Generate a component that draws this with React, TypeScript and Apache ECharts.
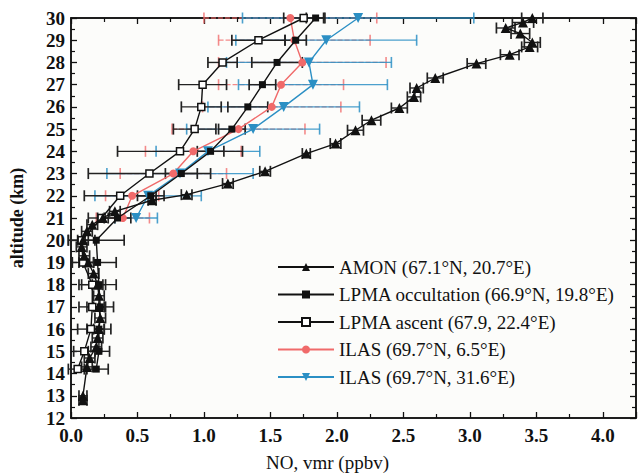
import React, { useEffect, useRef } from "react";
import * as echarts from "echarts";

// ---------- data ----------
const seriesNames = [
  "AMON (67.1°N, 20.7°E)",
  "LPMA occultation (66.9°N, 19.8°E)",
  "LPMA ascent (67.9, 22.4°E)",
  "ILAS (69.7°N, 6.5°E)",
  "ILAS (69.7°N, 31.6°E)",
];

const amonAlt = [30.0, 29.8, 29.55, 29.3, 28.9, 28.7, 28.35, 27.95, 27.3, 26.85, 26.45, 25.95, 25.4, 24.95, 24.35, 23.9, 23.1, 22.55, 22.05, 21.8, 21.3, 21.0, 20.7, 20.4, 20.0, 19.7, 19.3, 19.0, 18.5, 18.0, 17.5, 17.0, 16.5, 16.0, 15.6, 15.2, 14.7, 14.3, 13.0, 12.8];
const amonX = [3.47, 3.40, 3.27, 3.38, 3.47, 3.45, 3.30, 3.05, 2.74, 2.60, 2.58, 2.47, 2.26, 2.14, 1.99, 1.77, 1.46, 1.18, 0.87, 0.61, 0.33, 0.24, 0.16, 0.12, 0.09, 0.08, 0.10, 0.13, 0.17, 0.20, 0.21, 0.21, 0.22, 0.21, 0.20, 0.19, 0.14, 0.12, 0.09, 0.09];
const amonErr = [0.08, 0.08, 0.07, 0.07, 0.06, 0.06, 0.07, 0.07, 0.06, 0.05, 0.05, 0.06, 0.07, 0.06, 0.04, 0.03, 0.04, 0.04, 0.04, 0.03, 0.04, 0.04, 0.04, 0.04, 0.04, 0.04, 0.04, 0.04, 0.04, 0.04, 0.04, 0.04, 0.04, 0.04, 0.04, 0.04, 0.04, 0.04, 0.03, 0.03];

const lpmaAlt = [30, 29, 28, 27, 26, 25, 24, 23, 22, 21, 20, 19, 18, 17, 16, 15, 14.2];
const lpmaOccX = [1.84, 1.69, 1.55, 1.44, 1.33, 1.21, 1.05, 0.83, 0.60, 0.35, 0.19, 0.20, 0.21, 0.22, 0.21, 0.21, 0.19];
const lpmaOccErr = [0.07, 0.08, 0.19, 0.1, 0.15, 0.1, 0.1, 0.12, 0.1, 0.1, 0.21, 0.14, 0.13, 0.1, 0.09, 0.08, 0.09];
const lpmaAscX = [1.75, 1.41, 1.14, 0.99, 0.98, 0.93, 0.82, 0.59, 0.37, 0.23, 0.08, 0.09, 0.16, 0.16, 0.15, 0.10, 0.05];
const lpmaAscErr = [0.15, 0.2, 0.11, 0.18, 0.15, 0.16, 0.47, 0.46, 0.27, 0.1, 0.1, 0.08, 0.1, 0.1, 0.1, 0.08, 0.07];

const ilasAlt = [30, 29, 28, 27, 26, 25, 24, 23, 22, 21];
const ilasRedX = [1.65, 1.68, 1.74, 1.58, 1.51, 1.26, 0.92, 0.77, 0.46, 0.39];
const ilasRedErr = [0.65, 0.57, 0.63, 0.47, 0.52, 0.5, 0.36, 0.4, 0.2, 0.2];
const ilasBlueX = [2.16, 1.92, 1.79, 1.82, 1.60, 1.37, 1.03, 0.82, 0.58, 0.49];
const ilasBlueErr = [0.87, 0.68, 0.62, 0.56, 0.57, 0.5, 0.39, 0.55, 0.4, 0.16];

const xTickMin = 0;
const xTickMax = 4.25;
const yTickMin = 12;
const yTickMax = 30;

const RED = "#f06a6a";
const BLUE = "#2b8fc4";
const SERIF = "'Liberation Serif', 'Times New Roman', serif";

function makeErr(name: string, xs: number[], ys: number[], es: number[], color: string, width: number, dash: number[] | null, z: number) {
  return {
    type: "custom",
    name,
    xAxisIndex: 0,
    yAxisIndex: 0,
    z,
    silent: true,
    clip: false,
    data: xs.map((x, i) => [x, ys[i], es[i]]),
    encode: { x: 0, y: 1 },
    renderItem: (_params: any, api: any) => {
      const x = api.value(0);
      const y = api.value(1);
      const e = api.value(2);
      const l = api.coord([x - e, y]);
      const r = api.coord([x + e, y]);
      const h = 5.5;
      const capStyle = { stroke: color, lineWidth: width + 0.3, fill: null };
      return {
        type: "group",
        children: [
          { type: "line", shape: { x1: l[0], y1: l[1], x2: r[0], y2: r[1] }, style: { stroke: color, lineWidth: width, lineDash: dash || undefined, fill: null } },
          { type: "line", shape: { x1: l[0], y1: l[1] - h, x2: l[0], y2: l[1] + h }, style: capStyle },
          { type: "line", shape: { x1: r[0], y1: r[1] - h, x2: r[0], y2: r[1] + h }, style: capStyle },
        ],
      };
    },
  };
}

function makeLine(name: string, xs: number[], ys: number[], color: string, symbol: string, size: number, fill: string, z: number, rotate = 0) {
  return {
    type: "line",
    name,
    xAxisIndex: 0,
    yAxisIndex: 0,
    z,
    data: xs.map((x, i) => [x, ys[i]]),
    symbol,
    symbolSize: size,
    symbolRotate: rotate,
    showAllSymbol: true,
    clip: false,
    lineStyle: { color, width: 1.4 },
    itemStyle: { color: fill, borderColor: color, borderWidth: fill === "#ffffff" ? 1.5 : 0, opacity: 1 },
  };
}

export default function App() {
  const ref = useRef<HTMLDivElement>(null);
  useEffect(() => {
    if (!ref.current) return;
    const chart = echarts.init(ref.current, undefined, { renderer: "svg" });
    const axisCommon = {
      type: "value",
      axisLine: { show: true, onZero: false, lineStyle: { color: "#111", width: 1.5 } },
      axisTick: { show: true, inside: true, length: 6, lineStyle: { color: "#111", width: 1.3 } },
      minorTick: { show: true, splitNumber: 2, length: 4, lineStyle: { color: "#111", width: 1.2 } },
      splitLine: { show: false },
    };
    chart.setOption({
      animation: false,
      backgroundColor: "#ffffff",
      grid: { left: 66, right: 4, top: 18, bottom: 57, show: true, backgroundColor: "#fcfcfa", borderColor: "#111", borderWidth: 1.5 },
      legend: {
        data: seriesNames,
        orient: "vertical",
        left: 272,
        top: 252,
        itemWidth: 56,
        itemHeight: 10,
        itemGap: 7.5,
        textStyle: { fontFamily: SERIF, fontSize: 19, color: "#111", lineHeight: 20 },
      },
      xAxis: [
        {
          ...axisCommon,
          min: xTickMin,
          max: xTickMax,
          interval: 0.5,
          axisLabel: { showMaxLabel: false, fontFamily: SERIF, fontWeight: "bold", fontSize: 19, color: "#111", margin: 8, formatter: (v: number) => v.toFixed(1) },
        },
        {
          ...axisCommon,
          position: "top",
          min: xTickMin,
          max: xTickMax,
          interval: 0.5,
          axisLabel: { show: false },
        },
      ],
      yAxis: [
        {
          ...axisCommon,
          min: yTickMin,
          max: yTickMax,
          interval: 1,
          name: "altitude (km)",
          nameLocation: "middle",
          nameGap: 45,
          nameTextStyle: { fontFamily: SERIF, fontWeight: "bold", fontSize: 18, color: "#111" },
          axisLabel: { fontFamily: SERIF, fontWeight: "bold", fontSize: 19, color: "#111", margin: 6 },
        },
        {
          ...axisCommon,
          position: "right",
          min: yTickMin,
          max: yTickMax,
          interval: 1,
          axisLabel: { show: false },
        },
      ],
      graphic: [
        { type: "text", left: 266, top: 453, style: { text: "NO, vmr (ppbv)", font: `19px ${SERIF}`, fill: "#111" } },
      ],
      series: [
        makeErr("err-ilas-red", ilasRedX, ilasAlt, ilasRedErr, "rgba(240,100,100,0.75)", 1.3, [5, 2], 2),
        makeErr("err-ilas-blue", ilasBlueX, ilasAlt, ilasBlueErr, "rgba(43,143,196,0.85)", 1.3, null, 2),
        makeErr("err-lpma-asc", lpmaAscX, lpmaAlt, lpmaAscErr, "#222", 1.4, null, 3),
        makeErr("err-lpma-occ", lpmaOccX, lpmaAlt, lpmaOccErr, "#222", 1.4, null, 3),
        makeErr("err-amon", amonX, amonAlt, amonErr, "#222", 1.4, null, 3),
        makeLine(seriesNames[3], ilasRedX, ilasAlt, RED, "circle", 8, RED, 4),
        makeLine(seriesNames[4], ilasBlueX, ilasAlt, BLUE, "triangle", 10, BLUE, 4, 180),
        makeLine(seriesNames[2], lpmaAscX, lpmaAlt, "#111", "rect", 7, "#ffffff", 5),
        makeLine(seriesNames[1], lpmaOccX, lpmaAlt, "#111", "rect", 7, "#111", 5),
        makeLine(seriesNames[0], amonX, amonAlt, "#111", "triangle", 10, "#111", 6),
      ],
    });
    return () => chart.dispose();
  }, []);
  return <div ref={ref} style={{ position: "fixed", left: 0, top: 0, width: 640, height: 475 }} />;
}
